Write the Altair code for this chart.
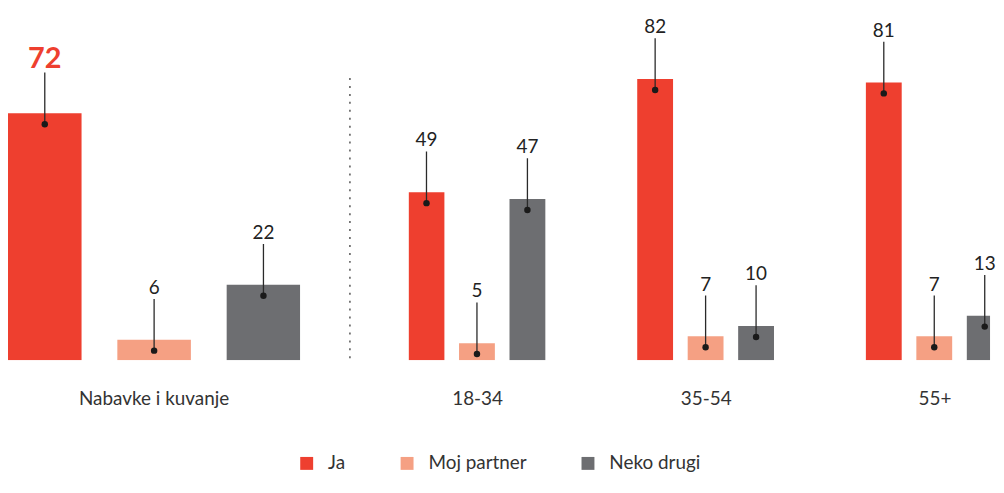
import altair as alt
import pandas as pd

# ---- data ----
series = ["Ja", "Moj partner", "Neko drugi"]
colors = ["#EE3F2F", "#F5A083", "#6D6E71"]
total_label = ["Nabavke i kuvanje"]
total_values = [72, 6, 22]
age_groups = ["18-34", "35-54", "55+"]
values_18_34 = [49, 5, 47]
values_35_54 = [82, 7, 10]
values_55 = [81, 7, 13]

rows_left = [{"group": total_label[0], "series": s, "value": v} for s, v in zip(series, total_values)]
rows_right = []
for g, vals in zip(age_groups, [values_18_34, values_35_54, values_55]):
    for s, v in zip(series, vals):
        rows_right.append({"group": g, "series": s, "value": v})
left_df = pd.DataFrame(rows_left)
right_df = pd.DataFrame(rows_right)

FONT = "Lato"
H = 353
YMAX = 102.3

y_enc = alt.Y("value:Q", scale=alt.Scale(domain=[0, YMAX], nice=False, zero=True), axis=None)
color_enc = alt.Color(
    "series:N",
    sort=series,
    scale=alt.Scale(domain=series, range=colors),
    legend=alt.Legend(
        orient="none", legendX=291, legendY=447, direction="horizontal", title=None,
        symbolType="square", symbolSize=169, symbolStrokeWidth=0,
        labelFontSize=19, labelFont=FONT, labelColor="#333",
        columnPadding=52, labelOffset=12, padding=0,
    ),
)


def panel(df, groups, width, x_scale, off_scale, highlight, label_shift=0):
    base = alt.Chart(df).encode(
        x=alt.X("group:N", sort=groups, scale=x_scale,
                axis=alt.Axis(title=None, domain=False, ticks=False, labelAngle=0,
                              labelFontSize=19, labelColor="#333", labelFont=FONT,
                              labelPadding=29, labelOffset=label_shift)),
        xOffset=alt.XOffset("series:N", sort=series, scale=off_scale),
        y=y_enc,
    )
    bars = base.mark_bar(clip=True).encode(color=color_enc)
    rules = base.mark_rule(color="#2a2a2a", strokeWidth=1.3, yOffset=-41, y2Offset=11,
                           clip=True).encode(y2="value:Q")
    dots = base.mark_circle(size=42, color="#1a1a1a", opacity=1, yOffset=11, clip=True)
    layers = [bars, rules, dots]
    if highlight:
        big = base.transform_filter("datum.series == 'Ja'").mark_text(
            baseline="alphabetic", yOffset=-46, fontSize=29, fontWeight="bold",
            font=FONT, color="#EE3F2F").encode(text="value:Q")
        small = base.transform_filter("datum.series != 'Ja'").mark_text(
            baseline="alphabetic", yOffset=-46, fontSize=19,
            font=FONT, color="#222").encode(text="value:Q")
        layers += [big, small]
    else:
        small = base.mark_text(baseline="alphabetic", yOffset=-46, fontSize=19,
                               font=FONT, color="#222").encode(text="value:Q")
        layers += [small]
    return alt.layer(*layers).properties(width=width, height=H)


left = panel(left_df, total_label, 294,
             alt.Scale(paddingInner=0, paddingOuter=0),
             alt.Scale(paddingInner=36 / 110, paddingOuter=0), True)

divider = alt.Chart(pd.DataFrame({"d": [0]})).mark_rule(
    strokeDash=[2, 6], color="#555", strokeWidth=1.5
).encode(x=alt.value(344), y=alt.value(69), y2=alt.value(356))

left = alt.layer(left, divider)

# right panel: groups every 230 px starting at its left edge; each group's bars
# span ~138 px, so the last bar runs past the edge and is clipped (as in the original)
right = panel(right_df, age_groups, 585,
              alt.Scale(paddingInner=0.457, paddingOuter=0),
              alt.Scale(paddingInner=0.29, paddingOuter=0, range=[0, 137.6]), False,
              label_shift=7)

chart = alt.hconcat(left, right, spacing=109, bounds="flush").resolve_scale(
    xOffset="independent"
).properties(padding=0).configure_view(stroke=None)

chart.save("out.html", embed_options={"renderer": "svg", "actions": False})
